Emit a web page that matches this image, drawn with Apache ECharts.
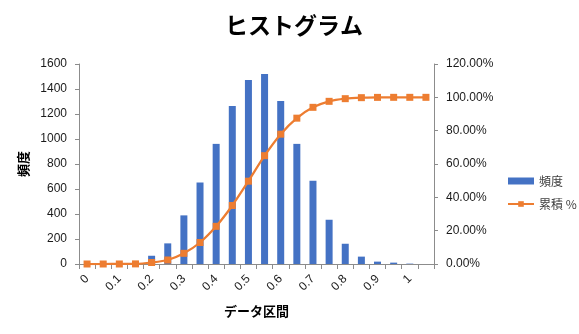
<!DOCTYPE html>
<html><head><meta charset="utf-8">
<script src="https://cdn.jsdelivr.net/npm/echarts@6/dist/echarts.min.js"></script>
<style>html,body{margin:0;padding:0;background:#fff}#c{width:579px;height:334px}</style>
</head><body><div id="c"></div>
<script>
const categories = ['0','0.05','0.1','0.15','0.2','0.25','0.3','0.35','0.4','0.45','0.5','0.55','0.6','0.65','0.7','0.75','0.8','0.85','0.9','0.95','1','次の級'];
const frequency = [0,0,1,6,66,165,389,652,961,1265,1472,1520,1305,961,666,354,162,59,19,11,3,0];
const cumulative = [0,0,0.01,0.07,0.9,2.4,6.4,12.9,22.6,35.1,49.7,65.0,77.9,87.5,94.0,97.6,99.2,99.8,99.97,100,100,100];
const leftTicks = {min:0, max:1600, interval:200};
const rightTicks = {min:0, max:120, interval:20};

const chart = echarts.init(document.getElementById('c'), null, {renderer:'canvas'});
const axisColor = '#8c8c8c';
const labelFont = {color:'#1a1a1a', fontSize:12, fontFamily:'Liberation Sans'};
chart.setOption({
  animation:false,
  title:{text:'ヒストグラム', left:289, top:9, textAlign:'center',
    textStyle:{fontFamily:'Noto Sans CJK JP', fontWeight:'bold', fontSize:23, color:'#000'}},
  grid:{left:79, right:145, top:64, bottom:70},
  legend:{orient:'vertical', left:507, top:175, padding:0, itemWidth:26, itemHeight:7, itemGap:11,
    textStyle:{fontFamily:'Noto Sans CJK JP', fontSize:12, color:'#404040'},
    data:[{name:'頻度', icon:'rect'},{name:'累積 %'}]},
  xAxis:{type:'category', data:categories, boundaryGap:true,
    name:'データ区間', nameLocation:'middle', nameGap:41,
    nameTextStyle:{fontFamily:'Noto Sans CJK JP', fontWeight:'bold', fontSize:13, color:'#000'},
    axisLine:{lineStyle:{color:axisColor}},
    axisTick:{show:true, interval:0, length:5, lineStyle:{color:axisColor}},
    axisLabel:Object.assign({interval:1, rotate:45, margin:13}, labelFont)},
  yAxis:[
    {type:'value', min:leftTicks.min, max:leftTicks.max, interval:leftTicks.interval,
     name:'頻度', nameLocation:'middle', nameGap:48, nameRotate:90,
     nameTextStyle:{fontFamily:'Noto Sans CJK JP', fontWeight:'bold', fontSize:13, color:'#000'},
     splitLine:{show:false},
     axisLine:{show:true, lineStyle:{color:axisColor}},
     axisTick:{show:true, length:4, lineStyle:{color:axisColor}},
     axisLabel:Object.assign({margin:12, formatter:v=>String(v)}, labelFont)},
    {type:'value', min:rightTicks.min, max:rightTicks.max, interval:rightTicks.interval, position:'right',
     splitLine:{show:false},
     axisLine:{show:true, lineStyle:{color:axisColor}},
     axisTick:{show:true, length:4, lineStyle:{color:axisColor}},
     axisLabel:Object.assign({margin:12, formatter:v=>v.toFixed(2)+'%'}, labelFont)}
  ],
  series:[
    {name:'頻度', type:'bar', data:frequency, barWidth:7, itemStyle:{color:'#4472C4'}},
    {name:'累積 %', type:'line', yAxisIndex:1, data:cumulative, smooth:0.25,
     symbol:'rect', symbolSize:7, showAllSymbol:true,
     lineStyle:{color:'#ED7D31', width:2.25}, itemStyle:{color:'#ED7D31'}}
  ]
});
</script></body></html>
